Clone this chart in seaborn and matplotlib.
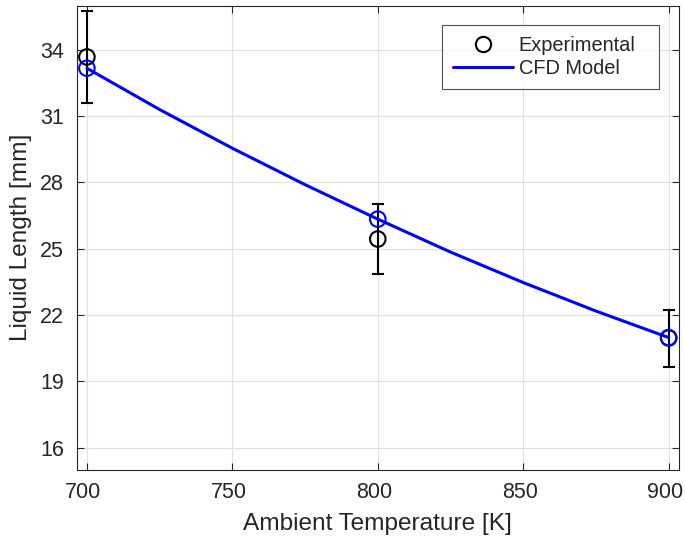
import matplotlib
matplotlib.use("Agg")
import matplotlib.pyplot as plt
import matplotlib.transforms as mtransforms
import seaborn as sns
import pandas as pd
from matplotlib.lines import Line2D

# ---- data ----
exp_temp = [700, 800, 900]
exp_length = [33.68, 25.44, 20.96]
exp_err = [2.09, 1.59, 1.29]
cfd_temp = [700, 725, 750, 775, 800, 825, 850, 875, 900]
cfd_length = [33.17, 31.30, 29.55, 27.90, 26.34, 24.85, 23.47, 22.18, 20.98]
cfd_marker_temp = [700, 800, 900]
cfd_marker_length = [33.17, 26.34, 20.98]
x_ticks = [700, 750, 800, 850, 900]
y_ticks = [16, 19, 22, 25, 28, 31, 34]
legend_labels = ["Experimental", "CFD Model"]

sns.set_style("ticks")
plt.rcParams['font.family'] = ['Liberation Sans', 'DejaVu Sans']

TXT = '#262626'
fig = plt.figure(figsize=(6.85, 5.39), dpi=100)
ax = fig.add_axes([0.112, 0.1286, 0.879, 0.8608])

exp_df = pd.DataFrame({"T": exp_temp, "L": exp_length})
cfd_df = pd.DataFrame({"T": cfd_temp, "L": cfd_length})
cfdm_df = pd.DataFrame({"T": cfd_marker_temp, "L": cfd_marker_length})

ax.errorbar(exp_temp, exp_length, yerr=exp_err, fmt='none', ecolor='black',
            elinewidth=1.5, capsize=4.2, capthick=1.5, zorder=3)
sns.scatterplot(data=exp_df, x="T", y="L", ax=ax, marker='o', s=125,
                facecolors='none', edgecolor='black', linewidth=1.5, zorder=4)
sns.lineplot(data=cfd_df, x="T", y="L", ax=ax, color='blue', linewidth=2.2, zorder=5)
sns.scatterplot(data=cfdm_df, x="T", y="L", ax=ax, marker='o', s=125,
                facecolors='none', edgecolor='blue', linewidth=1.5, zorder=6)

ax.set_xlim(696.5, 903.5)
ax.set_ylim(15, 36)
ax.set_xticks(x_ticks)
ax.set_yticks(y_ticks)
ax.grid(True, color='#e0e0e0', linewidth=0.8)
ax.set_axisbelow(True)
for s in ax.spines.values():
    s.set_visible(True)
    s.set_color(TXT)
    s.set_linewidth(0.8)
ax.tick_params(direction='in', length=5, width=0.8, colors=TXT, labelsize=15.5,
               top=True, right=True, pad=9)
ax.set_xlabel("Ambient Temperature [K]", fontsize=17.6, color=TXT, labelpad=7)
ax.set_ylabel("Liquid Length [mm]", fontsize=17.6, color=TXT, labelpad=6)

# small leftward nudge of x tick labels (as in the reference)
offset = mtransforms.ScaledTranslation(-3.5 / 100, 0, fig.dpi_scale_trans)
for lbl in ax.get_xticklabels():
    lbl.set_transform(lbl.get_transform() + offset)

handles = [Line2D([], [], marker='o', linestyle='none', markerfacecolor='none',
                  markeredgecolor='black', markersize=11, markeredgewidth=1.5),
           Line2D([], [], color='blue', linewidth=2.2)]
leg = ax.legend(handles, legend_labels, loc='upper right', mode='expand',
                bbox_to_anchor=(0.606, 0.6, 0.361, 0.358), fontsize=14.4, frameon=True,
                fancybox=False, edgecolor=TXT, handlelength=3.0,
                borderpad=0.55, labelspacing=0.2, handletextpad=0.3, borderaxespad=0)
leg.get_frame().set_linewidth(0.8)

fig.savefig("out.png", dpi=100)
